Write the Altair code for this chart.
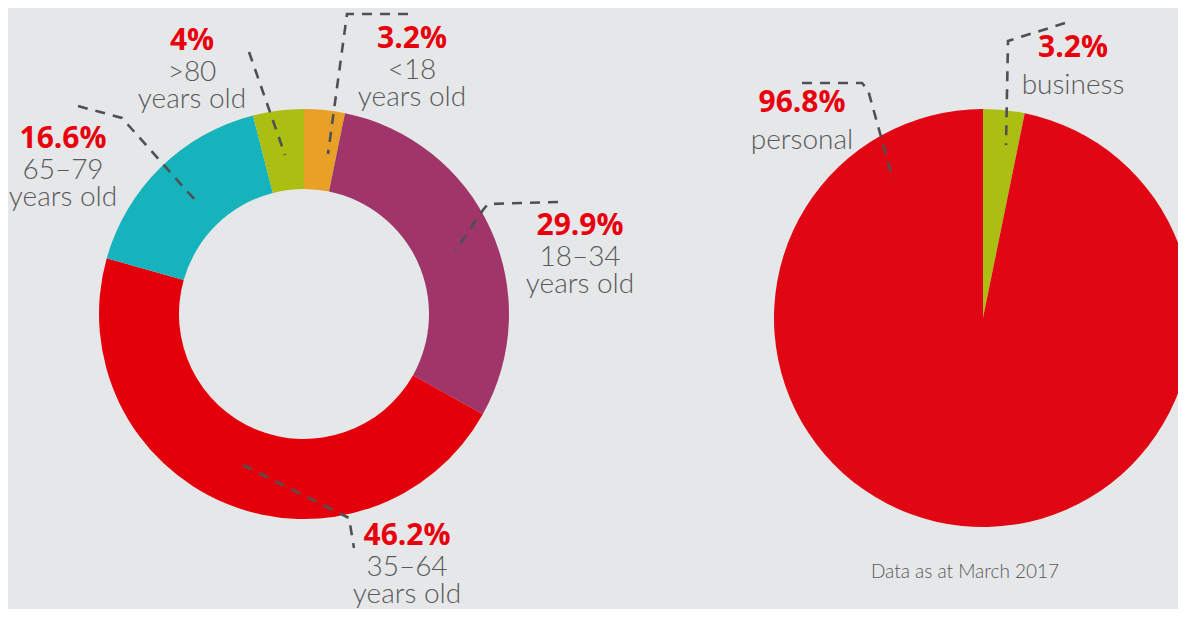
import altair as alt
import pandas as pd

# ---------------- data ----------------
age_groups = ["<18", "18–34", "35–64", "65–79", ">80"]
age_share = [3.2, 29.9, 46.2, 16.6, 4.0]
age_colors = ["#e8a027", "#a0356a", "#e3000b", "#17b3bd", "#abbf13"]

acct_types = ["business", "personal"]
acct_share = [3.2, 96.8]
acct_colors = ["#abbf13", "#e10613"]

footnote = "Data as at March 2017"

# ---------------- layout (page px, minus 8px body margin) ----------------
OFF = 8
W, H = 1170, 601
DONUT_C = (304 - OFF, 314 - OFF)
DONUT_R, DONUT_R2 = 205, 125
PIE_C = (983 - OFF, 318 - OFF)
PIE_R = 209

BG = "#e6e7e8"
RED_TXT = "#e8000d"
GREY_TXT = "#58595b"
DASH = "#4f5052"

# label anchor positions (page px): (x, y_percent_baseline)
age_label_pos = {
    "<18": (412, 48),
    "18–34": (580, 235),
    "35–64": (407, 545),
    "65–79": (63, 148),
    ">80": (192, 50),
}
acct_label_pos = {"business": (1073, 57), "personal": (802, 112)}

# leader polylines (page px)
leaders = {
    "<18": [(408, 14), (347, 14), (328, 154)],
    "18–34": [(558, 202), (488, 204), (483, 210), (455, 251)],
    "35–64": [(243, 465), (335, 511), (349, 518), (354, 548)],
    "65–79": [(78, 106), (122, 118), (130, 127), (195, 200)],
    ">80": [(249, 52), (285, 155)],
    "business": [(1065, 23), (1008, 41), (1006, 145)],
    "personal": [(802, 83), (862, 83), (868, 90), (893, 180)],
}


def fmt(v):
    s = f"{v:.1f}"
    if s.endswith(".0"):
        s = s[:-2]
    return s + "%"


# ---------------- tables ----------------
donut_df = pd.DataFrame({"cat": age_groups, "value": age_share, "order": range(len(age_groups))})
pie_df = pd.DataFrame({"cat": acct_types, "value": acct_share, "order": range(len(acct_types))})

pct_rows, cat_rows = [], []
for c, v in zip(age_groups, age_share):
    x, y = age_label_pos[c]
    pct_rows.append({"x": x - OFF, "y": y - OFF, "t": fmt(v)})
    cat_rows.append({"x": x - OFF, "y": y - OFF + 31, "t": c})
    cat_rows.append({"x": x - OFF, "y": y - OFF + 58, "t": "years old"})
for c, v in zip(acct_types, acct_share):
    x, y = acct_label_pos[c]
    pct_rows.append({"x": x - OFF, "y": y - OFF, "t": fmt(v)})
    cat_rows.append({"x": x - OFF, "y": y - OFF + 37, "t": c})
pct_df = pd.DataFrame(pct_rows)
cat_df = pd.DataFrame(cat_rows)
note_df = pd.DataFrame([{"x": 965 - OFF, "y": 578 - OFF, "t": footnote}])

lead_rows = []
for k, pts in leaders.items():
    for i, (x, y) in enumerate(pts):
        lead_rows.append({"id": k, "i": i, "x": x - OFF, "y": y - OFF})
lead_df = pd.DataFrame(lead_rows)

xs = alt.Scale(domain=[0, W], range=[0, W])
ys = alt.Scale(domain=[0, H], range=[0, H])

# ---------------- marks ----------------
donut = alt.Chart(donut_df).mark_arc(radius=DONUT_R, radius2=DONUT_R2).encode(
    theta=alt.Theta("value:Q", stack=True),
    order=alt.Order("order:Q"),
    color=alt.Color("cat:N", scale=alt.Scale(domain=age_groups, range=age_colors), legend=None),
    x=alt.value(DONUT_C[0]),
    y=alt.value(DONUT_C[1]),
)

pie = alt.Chart(pie_df).mark_arc(radius=PIE_R).encode(
    theta=alt.Theta("value:Q", stack=True),
    order=alt.Order("order:Q"),
    color=alt.Color("cat:N", scale=alt.Scale(domain=acct_types, range=acct_colors), legend=None),
    x=alt.value(PIE_C[0]),
    y=alt.value(PIE_C[1]),
)

lines = alt.Chart(lead_df).mark_line(
    color=DASH, strokeWidth=2.6, strokeDash=[10, 8], strokeCap="butt"
).encode(
    x=alt.X("x:Q", scale=xs, axis=None),
    y=alt.Y("y:Q", scale=ys, axis=None),
    detail="id:N",
    order="i:Q",
)

pct = alt.Chart(pct_df).mark_text(
    font="Open Sans", fontSize=30, fontWeight="bold", color=RED_TXT, align="center", baseline="alphabetic"
).encode(
    x=alt.X("x:Q", scale=xs, axis=None),
    y=alt.Y("y:Q", scale=ys, axis=None),
    text="t:N",
)

cats = alt.Chart(cat_df).mark_text(
    font="Lato", fontSize=28, fontWeight=300, color=GREY_TXT, align="center",
    baseline="alphabetic"
).encode(
    x=alt.X("x:Q", scale=xs, axis=None),
    y=alt.Y("y:Q", scale=ys, axis=None),
    text="t:N",
)

note = alt.Chart(note_df).mark_text(
    font="Lato", fontSize=19, fontWeight=300, color=GREY_TXT, align="center", baseline="alphabetic"
).encode(
    x=alt.X("x:Q", scale=xs, axis=None),
    y=alt.Y("y:Q", scale=ys, axis=None),
    text="t:N",
)

chart = (
    alt.layer(donut, pie, lines, pct, cats, note)
    .resolve_scale(theta="independent", color="independent")
    .properties(width=W, height=H, background=BG, padding=0, autosize=alt.AutoSizeParams(type="none"))
    .configure_view(stroke=None)
)

chart.save("out.html", embed_options={"renderer": "svg", "actions": False})
